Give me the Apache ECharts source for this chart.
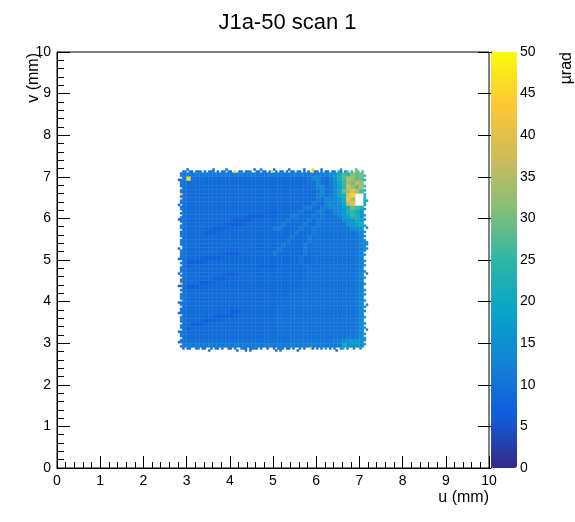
<!DOCTYPE html>
<html>
<head>
<meta charset="UTF-8">
<title>J1a-50 scan 1</title>
<script src="https://cdn.jsdelivr.net/npm/echarts@6/dist/echarts.min.js"></script>
<style>
  * { margin: 0; padding: 0; }
  #main { width: 575px; height: 522px; background: #fff; }
</style>
</head>
<body>
<div id="main"></div>
<script>
var uRange = [0, 10];
var vRange = [0, 10];
var zRange = [0, 50];

// one character per cell, its position in valueCodes is the value in µrad, '.' = empty
// spaces only split the strings into groups of 10 cells
var valueCodes = '0123456789ABCDEFGHIJKLMNOPQRSTUVWXYZabcdefghijklmn';

// body of the scan: 0.1 mm cells, u from 2.9 to 7.1 (left to right), v from 7.1 down to 2.9
var bodyBin = 0.1, bodyU = 2.9, bodyV = 7.1;
var bodyRows = [
  'BCBCBCBCBC CBCCBCCBCB CCBCCBCCBC CCCDEGMRPW TU',
  'BjA9A99999 9999999999 999999999A EEA9CGMRZX ST',
  'B9A9999999 9999999999 999999999A AEA9BFKQYU bW',
  'A999999999 9999999999 9999999999 AEEABEJPcX SZ',
  'A999999999 9999999999 9999999999 9AEAAEKTYe ZR',
  'A999999999 9999999999 9999999999 9CEACEKMej ..',
  'A999999999 9999999999 9999999999 9CAECEGLgY ..',
  'A999999999 9999999999 9999999999 CA9DEDFKbe ..',
  'A999999999 9999999999 99999999CC A9CCEEFHMU QN',
  'A999999999 9999999998 8899999C99 ACC9AEEHMO KH',
  'A999999999 9999987778 88999CC999 C9CA9AEGJP MG',
  'A999999999 9877778999 9999C9999C 9CAAAAAFFH LI',
  'A999999998 7777899999 999C9999C9 9CAAAAAAFG JL',
  'A999998777 8999999999 9CC9999C99 CAAAAAAAAF FG',
  'A999987899 9999999999 999999C999 CAAAAAAAAA CE',
  'A999999999 9999999999 99999C999C AAAAAAAAAA BD',
  'A999999999 9999999999 9999C9999C AAAAAAAAAA BD',
  'A999999999 9999999999 999C9999C9 AAAAAAAAAA BD',
  'A999999999 9999999999 99C99999C9 AAAAAAAAAA BD',
  'A999999998 7778999999 9C999999B9 AAAAAAAAAA BD',
  'A999877778 9999999999 9999999B99 AAAAAAAAAA BD',
  'A777789999 9999999999 9999999B99 AAAAAAAAAA BC',
  'A899999999 9999999988 88999999AA AAAAAAAAAA BD',
  'A999999999 9999999999 999999999A AAAAAAAAAA BD',
  'A999999998 7789999999 999999999A AAAAAAAAAA BD',
  'A999999777 8999999999 99999999AA AAAAAAAAAA BD',
  'A999777899 9999999999 99999999AA AAAAAAAAAA BD',
  'A777899999 9999999999 9999999AAA AAAAAAAAAA BD',
  'A999999999 9999999999 999999AAAA AAAAAAAAAA BD',
  'A999999999 9999999999 99999AAAAA AAAAAAAAAA BD',
  'B999999999 9999999999 9999AAAAAA AAAAAAAAAA BD',
  'A999999999 9999999999 999AAAAAAA AAAAAAAAAA BE',
  'A999999999 9999999999 99AAAAAAAA AAAAAAAAAA BE',
  'A999999999 9778999999 9AAAAAAAAA AAAAAAAAAA BE',
  'A999999877 7789999999 9AAAAAAAAA AAAAAAAAAA BE',
  'A999877789 9999999999 9AAAAAAAAA AAAAAAAAAA BE',
  'A977789999 9999999999 9AAAAAAAAA AAAAAAAAAA BE',
  'A799999999 9999999999 99AAAAAAAA AAAAAAAAAA BE',
  'A999999999 9999999999 99AAAAAAAA AAAAAAAAAA BE',
  'A999999999 999999999A AAAAAAAAAA AAAAAAAABB CF',
  'BAAAAAAAAA AAAAAAAAAA AAAAABBBBB BBBBBCDFGH HG',
  'BCBCBBCBCB CBCBCBBCBB CBCBCCBCBC CBCBCBCKEG HF'
];

// ragged rim of the scan: 0.05 mm cells
var rimBin = 0.05;
// above the body, u from 2.8 to 7.2; first line v 7.15-7.2, second v 7.1-7.15
var rimTop = [
  '....9..... ......A... ..9....... .....9..B. ....A..... .9......9. ..j...A... .....K.... ..R.....',
  '..9A.99.A9 A.9.99A.9. 9A.9A.j.AA .9A9..A9.9 A.9h.A.99. 9.A9.99.A. 9.jA9.A.9B .B9.KB.CR. P.TU.S..'
];
// below the body, u from 2.8 to 7.2; first line v 2.85-2.9, second v 2.8-2.85
var rimBottom = [
  '..9.A9..9A .9A..9.A9. 9..A9.9..A 9A.9AB9.A. .9..A.9A9. A9.9..A.9. .j9.A.9.K. 9.A..CK.D. .E..F...',
  '.......... ....9..... .......9.. .A.9...... .....9.A.. .....9.... .......... ...9...... ........'
];
// left of the body, v from 7.1 down to 2.9; first line u 2.8-2.85, second u 2.85-2.9
var rimLeft = [
  '...9...... .....A.... ..9....... ......9... .A......9. ....9..... ..9....A.. ......9... .9..',
  '9A.9A99.A9 j9.A9.9A.9 .9A9.A9.9A A.9A9..9A9 9A.9.A9A.9 .9Aj9.A.9A 9.A9.9A9.A A9.9A.9A9. 9A.9'
];
// right of the body, v from 7.1 down to 2.9; first line u 7.1-7.15, second u 7.15-7.2
var rimRight = [
  '.P.K..M.K. KMKJKG.F.. E.F..E..D. D.EDEDEE.D ..D.E..D.. D..E..D.E. .E..D.E..D ..E.D..E.F F.G.',
  '.......... ...K...... ......E... ...DE.D... ........D. .......... ...E...... .....E.... ....'
];

// ROOT kBird palette
var birdColors = ['#352a87', '#0f5cdd', '#1481d6', '#06a4ca', '#2eb7a4',
                  '#87bf77', '#d1bb59', '#fec832', '#f9fb0e'];

var cells = [];
function round3(x) { return Math.round(x * 1000) / 1000; }

// lines run left to right (stacked downwards) or, if vertical, top to bottom (stacked rightwards)
function addCells(lines, u0, vTop, bin, vertical) {
  lines.forEach(function (line, i) {
    var s = line.replace(/ /g, '');
    for (var k = 0; k < s.length; k++) {
      var ch = s.charAt(k);
      if (ch === '.') continue;
      var col = vertical ? i : k;
      var row = vertical ? k : i;
      cells.push([round3(u0 + col * bin), round3(vTop - (row + 1) * bin), valueCodes.indexOf(ch), bin]);
    }
  });
}

addCells(bodyRows, bodyU, bodyV, bodyBin, false);
addCells(rimTop, 2.8, 7.2, rimBin, false);
addCells(rimBottom, 2.8, 2.9, rimBin, false);
addCells(rimLeft, 2.8, 7.1, rimBin, true);
addCells(rimRight, 7.1, 7.1, rimBin, true);

function renderCell(params, api) {
  var u = api.value(0), v = api.value(1), size = api.value(3);
  var a = api.coord([u, v + size]);
  var b = api.coord([u + size, v]);
  var color = api.visual('color');
  return {
    type: 'rect',
    shape: { x: a[0], y: a[1], width: b[0] - a[0], height: b[1] - a[1] },
    style: { fill: color, stroke: color, lineWidth: 0.4 }
  };
}

var font = "'Liberation Sans', Arial, sans-serif";

function mainAxis(range, tickLen, minorLen) {
  return {
    type: 'value', min: range[0], max: range[1], interval: 1,
    axisLine: { show: true, lineStyle: { color: '#000', width: 1 } },
    axisTick: { show: true, inside: true, length: tickLen, lineStyle: { color: '#000' } },
    minorTick: { show: true, splitNumber: 5, length: minorLen, lineStyle: { color: '#000' } },
    splitLine: { show: false },
    axisLabel: { color: '#000', fontSize: 14, fontFamily: font, margin: 6 }
  };
}

var chart = echarts.init(document.getElementById('main'));
chart.setOption({
  animation: false,
  title: {
    text: 'J1a-50 scan 1', left: 'center', top: 7,
    textStyle: { fontSize: 22, fontWeight: 'normal', color: '#000', fontFamily: font }
  },
  grid: [
    { left: 57, right: 86, top: 52, bottom: 54, show: true, borderColor: '#000', borderWidth: 1 },
    { left: 491, width: 26, top: 52, bottom: 54 }
  ],
  xAxis: [
    mainAxis(uRange, 12, 6),
    { gridIndex: 1, type: 'value', min: 0, max: 1, show: false }
  ],
  yAxis: [
    mainAxis(vRange, 13, 7),
    {
      gridIndex: 1, type: 'value', position: 'right',
      min: zRange[0], max: zRange[1], interval: 5,
      axisLine: { show: true, lineStyle: { color: '#000', width: 1 } },
      axisTick: { show: true, inside: true, length: 13, lineStyle: { color: '#000' } },
      splitLine: { show: false },
      axisLabel: { color: '#000', fontSize: 14, fontFamily: font, margin: 3 }
    }
  ],
  visualMap: {
    type: 'continuous', min: zRange[0], max: zRange[1],
    dimension: 2, seriesIndex: 0,
    calculable: false, hoverLink: false,
    left: 491, top: 52, padding: 0,
    itemWidth: 26, itemHeight: 416,
    inRange: { color: birdColors }
  },
  graphic: [
    { type: 'text', x: 489, y: 498,
      style: { text: 'u (mm)', fill: '#000', font: '16px ' + font, align: 'right', verticalAlign: 'middle' } },
    { type: 'text', x: 34, y: 53, rotation: Math.PI / 2,
      style: { text: 'v (mm)', fill: '#000', font: '16px ' + font, align: 'right', verticalAlign: 'middle' } },
    { type: 'text', x: 567, y: 52, rotation: Math.PI / 2,
      style: { text: 'µrad', fill: '#000', font: '16px ' + font, align: 'right', verticalAlign: 'middle' } }
  ],
  series: [{
    type: 'custom',
    xAxisIndex: 0, yAxisIndex: 0,
    renderItem: renderCell,
    encode: { x: 0, y: 1 },
    data: cells
  }]
});
</script>
</body>
</html>
